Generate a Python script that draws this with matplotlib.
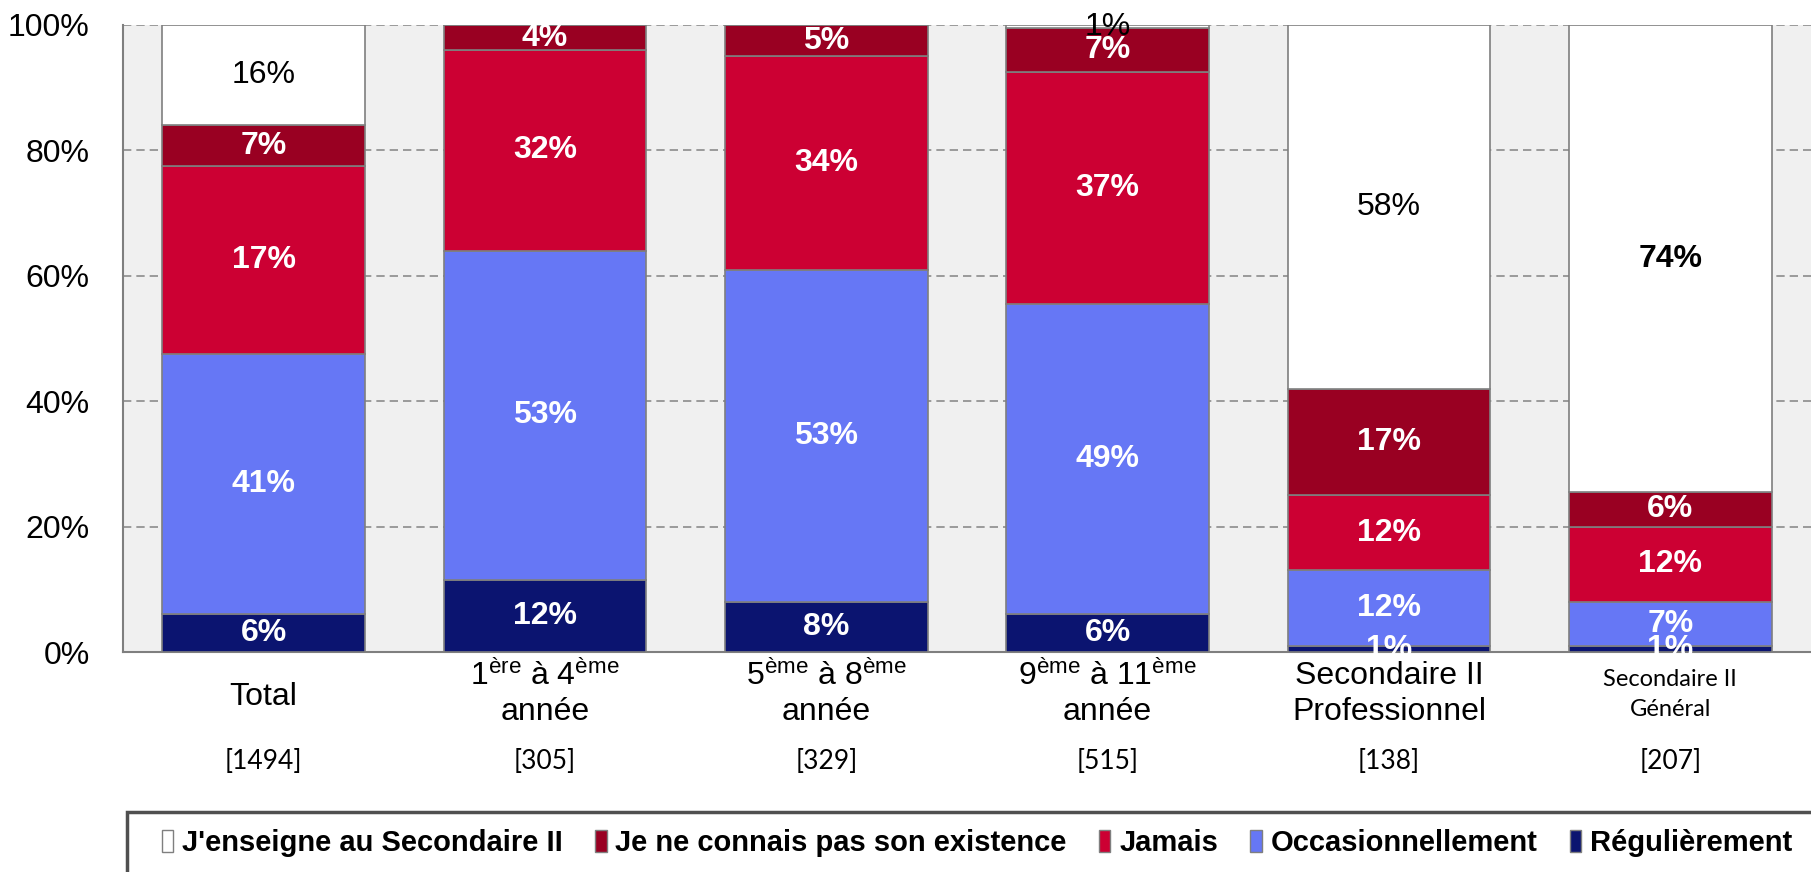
import matplotlib.pyplot as plt
import numpy as np
from matplotlib.patches import Patch, Rectangle

plt.rcParams['mathtext.fontset'] = 'custom'
plt.rcParams['mathtext.rm'] = 'Liberation Sans'
plt.rcParams['mathtext.it'] = 'Liberation Sans'

ARIAL = "Liberation Sans"

# categories (bottom line = sample size)
categories = ["Total", "1ère à 4ème année", "5ème à 8ème année",
              "9ème à 11ème année", "Secondaire II Professionnel",
              "Secondaire II Général"]
sample_sizes = [1494, 305, 329, 515, 138, 207]

# segment heights (%), bottom to top
regulierement = [6, 11.5, 8, 6, 1, 1]
occasionnellement = [41.5, 52.5, 53, 49.5, 12, 7]
jamais = [30, 32, 34, 37, 12, 12]
inconnu = [6.5, 4, 5, 7, 17, 5.5]
secondaire = [16, 0, 0, 0.5, 58, 74.5]

# printed labels (as shown on the chart)
lab_reg = ["6%", "12%", "8%", "6%", "1%", "1%"]
lab_occ = ["41%", "53%", "53%", "49%", "12%", "7%"]
lab_jam = ["17%", "32%", "34%", "37%", "12%", "12%"]
lab_inc = ["7%", "4%", "5%", "7%", "17%", "6%"]
lab_sec = ["16%", "", "", "1%", "58%", "74%"]

series_names = ["Régulièrement", "Occasionnellement", "Jamais",
                "Je ne connais pas son existence", "J'enseigne au Secondaire II"]
colors = ["#0b1470", "#6677f5", "#cc0033", "#990022", "#ffffff"]
text_colors = ["white", "white", "white", "white", "black"]

fig = plt.figure(figsize=(18.11, 8.72), dpi=100)
ax = fig.add_axes([123 / 1811, 1 - 652 / 872, 1 - 123 / 1811, 627 / 872])
ax.set_facecolor("#f0f0f0")

x = np.arange(len(categories))
series = [regulierement, occasionnellement, jamais, inconnu, secondaire]
labels = [lab_reg, lab_occ, lab_jam, lab_inc, lab_sec]
bottom = np.zeros(len(categories))
for vals, labs, col, tcol in zip(series, labels, colors, text_colors):
    vals = np.array(vals, dtype=float)
    ax.bar(x, vals, width=0.72, bottom=bottom, color=col,
           edgecolor="#7f7f7f", linewidth=1.2, zorder=3)
    for xi, b, v, lab in zip(x, bottom, vals, labs):
        if lab:
            ax.text(xi, b + v / 2, lab, ha="center", va="center",
                    color=tcol, fontsize=23, family=ARIAL,
                    fontweight="bold" if tcol == "white" or lab == "74%" else "normal",
                    zorder=5, clip_on=False)
    bottom += vals

ax.set_xlim(-0.5, 5.5)
ax.set_ylim(0, 100)
ax.set_yticks([0, 20, 40, 60, 80, 100])
ax.set_yticklabels([f"{v}%" for v in [0, 20, 40, 60, 80, 100]],
                   fontsize=23, family=ARIAL)
ax.tick_params(axis="y", length=0, pad=24)
ax.set_xticks([])
ax.yaxis.grid(True, color="#8c8c8c", linestyle=(0, (5, 3)), linewidth=1.2, zorder=0)
ax.set_axisbelow(True)
for s in ["top", "right"]:
    ax.spines[s].set_visible(False)
for s in ["left", "bottom"]:
    ax.spines[s].set_color("#7f7f7f")
    ax.spines[s].set_linewidth(1.5)

# category labels
tr = ax.get_xaxis_transform()
arial = dict(family=ARIAL, fontsize=23, ha="center", va="center")
calib = dict(family="Lato", fontsize=17, ha="center", va="center")
ax.text(x[0], -0.072, categories[0], transform=tr, **arial)
ax.text(x[1], -0.039, r"1$^{\mathrm{ère}}$ à 4$^{\mathrm{ème}}$", transform=tr, **arial)
ax.text(x[1], -0.095, "année", transform=tr, **arial)
ax.text(x[2], -0.039, r"5$^{\mathrm{ème}}$ à 8$^{\mathrm{ème}}$", transform=tr, **arial)
ax.text(x[2], -0.095, "année", transform=tr, **arial)
ax.text(x[3], -0.039, r"9$^{\mathrm{ème}}$ à 11$^{\mathrm{ème}}$", transform=tr, **arial)
ax.text(x[3], -0.095, "année", transform=tr, **arial)
ax.text(x[4], -0.039, "Secondaire II", transform=tr, **arial)
ax.text(x[4], -0.095, "Professionnel", transform=tr, **arial)
ax.text(x[5], -0.044, "Secondaire II", transform=tr, **calib)
ax.text(x[5], -0.091, "Général", transform=tr, **calib)
for xi, n in zip(x, sample_sizes):
    ax.text(xi, -0.175, f"[{n}]", transform=tr, family="Lato", fontsize=19,
            ha="center", va="center")

# legend box
fig.patches.append(Rectangle((127 / 1811, -0.01), 1, 60 / 872 + 0.01,
                             transform=fig.transFigure, facecolor="white",
                             edgecolor="#505050", linewidth=2.5, zorder=0))
handles = [Patch(facecolor=c, edgecolor="#7f7f7f") for c in colors[::-1]]
fig.legend(handles, series_names[::-1], loc="center left",
           bbox_to_anchor=(150 / 1811, 1 - 843 / 872), ncol=5, frameon=False,
           handlelength=0.4, handleheight=0.8, handletextpad=0.3,
           columnspacing=1.1, borderaxespad=0,
           prop=dict(family=ARIAL, weight="bold", size=21))

fig.savefig("out.png", dpi=100)
